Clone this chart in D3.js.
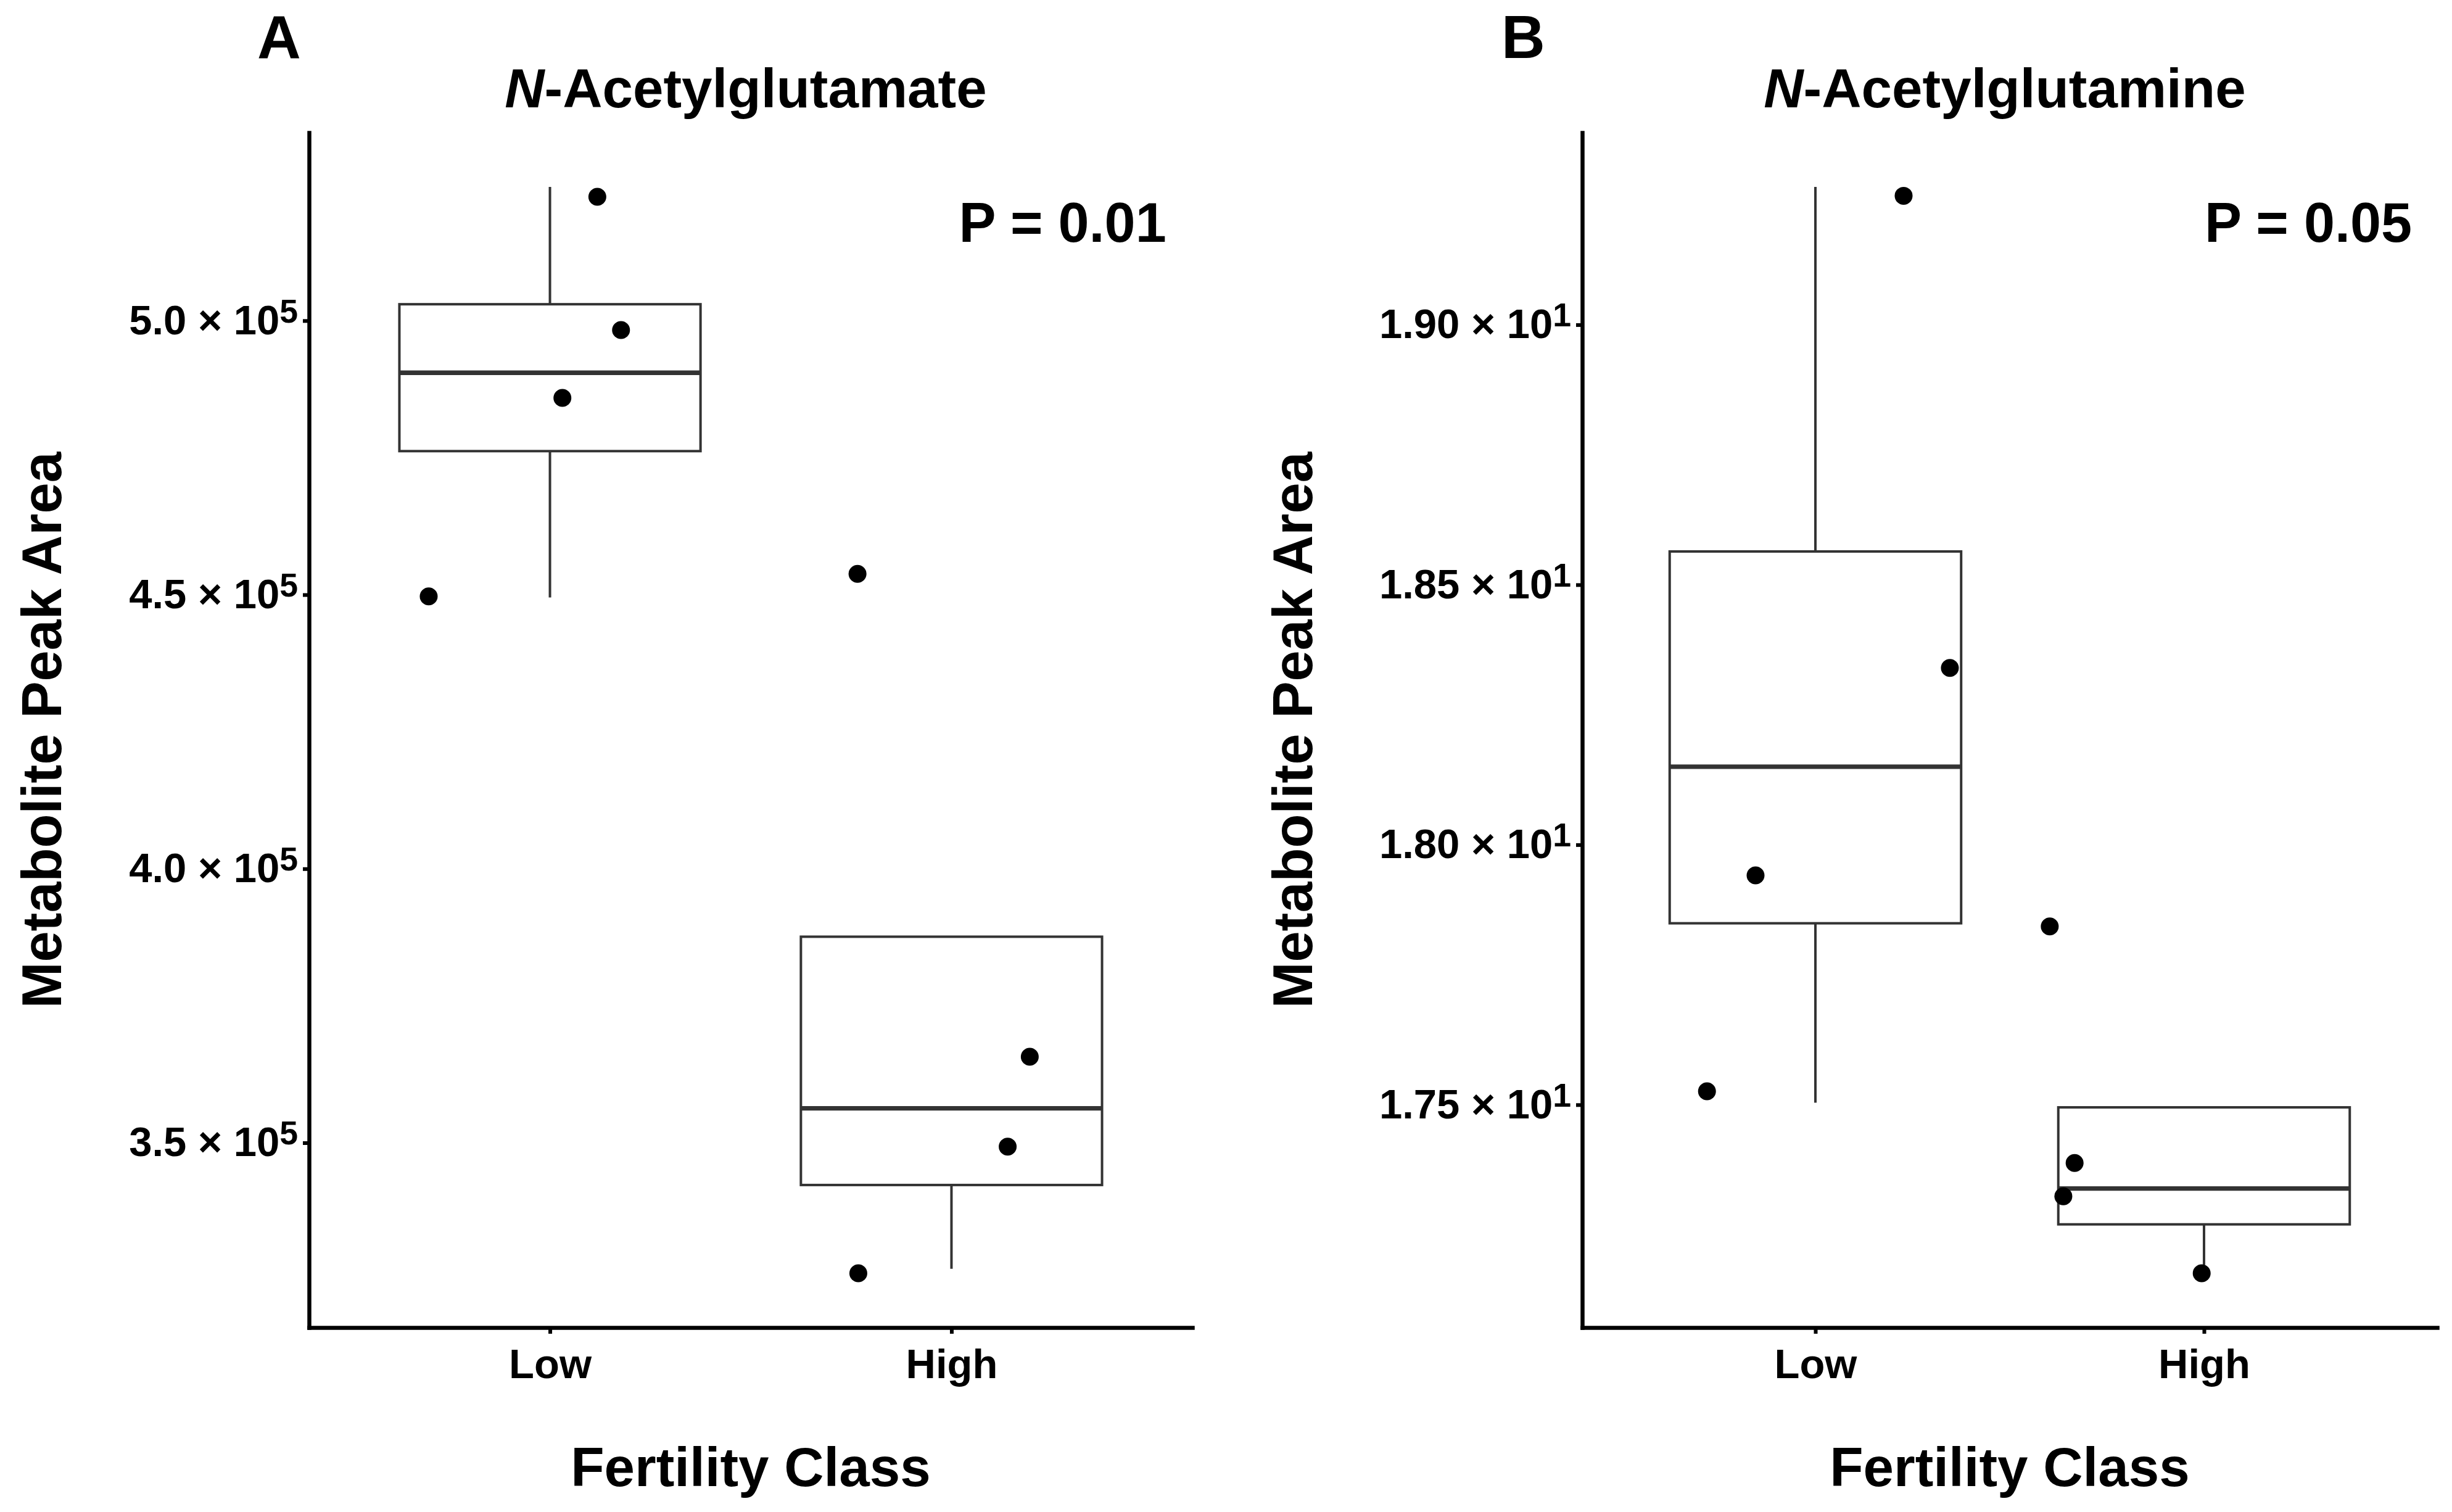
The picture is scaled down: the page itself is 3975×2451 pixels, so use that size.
<!DOCTYPE html>
<html>
<head>
<meta charset="utf-8">
<script src="https://cdn.jsdelivr.net/npm/d3@7"></script>
<style>
  body { margin: 0; background: #fff; overflow: hidden; }
  svg { display: block; }
  text { font-family: "Liberation Sans", Arial, Helvetica, sans-serif; font-weight: bold; fill: #000; }
</style>
</head>
<body>
<div id="chart"></div>
<script>
// Fertility classes on the x axis
const classes = ["Low", "High"];

// Panel A: N-Acetylglutamate peak area
const glutamateLow = [522600, 498300, 485900, 449700];
const glutamateHigh = [453800, 365700, 349300, 326200];
const glutamateLowJitter = [0.118, 0.177, 0.031, -0.302];
const glutamateHighJitter = [-0.234, 0.195, 0.140, -0.232];
// box stats: lower whisker, q1, median, q3, upper whisker
const glutamateLowBox = [449500, 476200, 490500, 503000, 524400];
const glutamateHighBox = [327000, 342300, 356300, 387600, 387600];
const glutamateTicks = [350000, 400000, 450000, 500000];
const glutamateTickLabels = ["3.5", "4.0", "4.5", "5.0"];
const glutamateExponent = "5";

// Panel B: N-Acetylglutamine peak area
const glutamineLow = [19.248, 18.340, 17.941, 17.526];
const glutamineHigh = [17.843, 17.388, 17.324, 17.176];
const glutamineLowJitter = [0.227, 0.346, -0.154, -0.279];
const glutamineHighJitter = [-0.397, -0.333, -0.362, -0.006];
const glutamineLowBox = [17.504, 17.849, 18.150, 18.564, 19.265];
const glutamineHighBox = [17.192, 17.270, 17.339, 17.495, 17.495];
const glutamineTicks = [17.5, 18.0, 18.5, 19.0];
const glutamineTickLabels = ["1.75", "1.80", "1.85", "1.90"];
const glutamineExponent = "1";

const tags = ["A", "B"];
const titles = ["-Acetylglutamate", "-Acetylglutamine"]; // after an italic N
const pLabels = ["P = 0.01", "P = 0.05"];

const width = 3975;
const height = 2451;
const plotTop = 215;
const plotBottom = 2152;

const panels = [
  {
    tagX: 417, yTitleX: 99, left: 501, right: 1933,
    low: glutamateLow, high: glutamateHigh,
    lowJitter: glutamateLowJitter, highJitter: glutamateHighJitter,
    boxes: [glutamateLowBox, glutamateHighBox],
    ticks: glutamateTicks, tickLabels: glutamateTickLabels, exponent: glutamateExponent
  },
  {
    tagX: 2434, yTitleX: 2127, left: 2565, right: 3951,
    low: glutamineLow, high: glutamineHigh,
    lowJitter: glutamineLowJitter, highJitter: glutamineHighJitter,
    boxes: [glutamineLowBox, glutamineHighBox],
    ticks: glutamineTicks, tickLabels: glutamineTickLabels, exponent: glutamineExponent
  }
];

const svg = d3.select("#chart")
  .append("svg")
  .attr("width", width)
  .attr("height", height)
  .attr("viewBox", `0 0 ${width} ${height}`);

svg.append("rect").attr("width", width).attr("height", height).attr("fill", "#fff");

panels.forEach((p, k) => {
  const points = [
    ...p.low.map((v, i) => ({ x: 1 + p.lowJitter[i], y: v })),
    ...p.high.map((v, i) => ({ x: 2 + p.highJitter[i], y: v }))
  ];

  // y range like ggplot: data extent plus 5% each side
  const all = points.map(d => d.y).concat(p.boxes.flat());
  const [lo, hi] = d3.extent(all);
  const pad = (hi - lo) * 0.05;

  const y = d3.scaleLinear()
    .domain([lo - pad, hi + pad])
    .range([plotBottom, plotTop]);

  const x = d3.scaleLinear()
    .domain([0.4, 2.6])
    .range([p.left, p.right]);

  const g = svg.append("g");
  const unit = x(2) - x(1);
  const half = unit * 0.375;

  // whiskers
  g.selectAll(".whisker")
    .data(p.boxes)
    .enter()
    .append("path")
    .attr("d", (b, i) => `M${x(i + 1)},${y(b[4])}V${y(b[3])}M${x(i + 1)},${y(b[1])}V${y(b[0])}`)
    .attr("stroke", "#333333")
    .attr("stroke-width", 4)
    .attr("fill", "none");

  // boxes
  g.selectAll(".box")
    .data(p.boxes)
    .enter()
    .append("rect")
    .attr("x", (b, i) => x(i + 1) - half)
    .attr("width", half * 2)
    .attr("y", b => y(b[3]))
    .attr("height", b => y(b[1]) - y(b[3]))
    .attr("fill", "#fff")
    .attr("stroke", "#333333")
    .attr("stroke-width", 4);

  // medians
  g.selectAll(".median")
    .data(p.boxes)
    .enter()
    .append("line")
    .attr("x1", (b, i) => x(i + 1) - half)
    .attr("x2", (b, i) => x(i + 1) + half)
    .attr("y1", b => y(b[2]))
    .attr("y2", b => y(b[2]))
    .attr("stroke", "#333333")
    .attr("stroke-width", 7.3);

  // jittered points
  g.selectAll("circle")
    .data(points)
    .enter()
    .append("circle")
    .attr("cx", d => x(d.x))
    .attr("cy", d => y(d.y))
    .attr("r", 14.5)
    .attr("fill", "#000");

  // y axis
  const gy = svg.append("g")
    .attr("transform", `translate(${p.left},0)`)
    .call(d3.axisLeft(y).tickValues(p.ticks).tickSize(10).tickSizeOuter(0).tickPadding(8))
    .attr("font-size", 67)
    .attr("font-family", null);

  gy.select(".domain").attr("stroke", "#000").attr("stroke-width", 6.5).attr("stroke-linecap", "square");
  gy.selectAll(".tick line").attr("stroke", "#000").attr("stroke-width", 6);
  gy.selectAll(".tick text").each(function (d, i) {
    const t = d3.select(this).text(null).attr("fill", "#000");
    t.append("tspan").text(`${p.tickLabels[i]} \u00d7 10`);
    t.append("tspan").attr("font-size", "0.8em").attr("dy", -19).text(p.exponent);
  });

  // x axis
  const gx = svg.append("g")
    .attr("transform", `translate(0,${plotBottom})`)
    .call(d3.axisBottom(x).tickValues([1, 2]).tickFormat(d => classes[d - 1]).tickSize(10).tickSizeOuter(0))
    .attr("font-size", 67)
    .attr("font-family", null);

  gx.select(".domain").attr("stroke", "#000").attr("stroke-width", 6.5).attr("stroke-linecap", "square");
  gx.selectAll(".tick line").attr("stroke", "#000").attr("stroke-width", 6);
  gx.selectAll(".tick text").attr("y", 82).attr("dy", null).attr("fill", "#000");

  // axis titles
  svg.append("text")
    .attr("x", (p.left + p.right) / 2)
    .attr("y", 2409)
    .attr("text-anchor", "middle")
    .attr("font-size", 89)
    .text("Fertility Class");

  svg.append("text")
    .attr("transform", `translate(${p.yTitleX},${(plotTop + plotBottom) / 2}) rotate(-90)`)
    .attr("text-anchor", "middle")
    .attr("font-size", 90)
    .text("Metabolite Peak Area");

  // plot title
  const title = svg.append("text")
    .attr("x", (p.left + p.right) / 2 - 8)
    .attr("y", 174)
    .attr("text-anchor", "middle")
    .attr("font-size", 89);
  title.append("tspan").attr("font-style", "italic").text("N");
  title.append("tspan").text(titles[k]);

  // panel tag
  svg.append("text")
    .attr("x", p.tagX)
    .attr("y", 94)
    .attr("font-size", 98)
    .text(tags[k]);

  // p value
  svg.append("text")
    .attr("x", x(2.535))
    .attr("y", plotTop + 177)
    .attr("text-anchor", "end")
    .attr("font-size", 90)
    .text(pLabels[k]);
});
</script>
</body>
</html>
